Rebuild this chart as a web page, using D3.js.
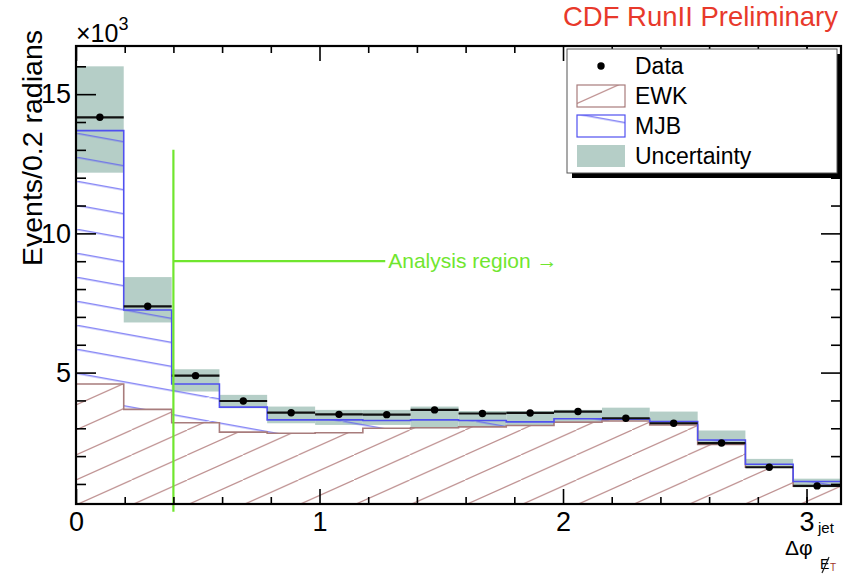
<!DOCTYPE html>
<html>
<head>
<meta charset="utf-8">
<script src="https://cdn.jsdelivr.net/npm/d3@7"></script>
<style>
  body { margin: 0; background: #fff; }
  svg { display: block; font-family: "Liberation Sans", Arial, Helvetica, sans-serif; }
</style>
</head>
<body>
<div id="chart"></div>
<script>
// 16 bins of pi/16 in delta phi (radians)
const binEdges = [0, 0.196, 0.393, 0.589, 0.785, 0.982, 1.178, 1.374, 1.571, 1.767, 1.963, 2.160, 2.356, 2.553, 2.749, 2.945, 3.142];

// events per bin, in units of 10^3
const dataValues  = [14.17, 7.38, 4.89, 3.98, 3.56, 3.50, 3.49, 3.66, 3.53, 3.55, 3.60, 3.36, 3.18, 2.47, 1.60, 0.93];
const ewkValues   = [4.59, 3.68, 3.20, 2.86, 2.82, 2.84, 3.00, 3.02, 3.05, 3.10, 3.22, 3.26, 3.12, 2.42, 1.60, 0.92];
const totalValues = [13.69, 7.25, 4.59, 3.76, 3.30, 3.30, 3.28, 3.30, 3.28, 3.23, 3.34, 3.33, 3.24, 2.58, 1.71, 1.09]; // EWK + MJB
const bandHigh    = [16.0, 8.43, 5.12, 4.20, 3.78, 3.66, 3.66, 3.78, 3.62, 3.62, 3.66, 3.74, 3.60, 2.92, 1.90, 1.19];
const bandLow     = [12.18, 6.80, 4.32, 3.72, 3.18, 3.12, 3.12, 3.00, 3.06, 3.10, 3.24, 3.28, 3.12, 2.40, 1.57, 0.88];

const xMajorTicks = [0, 1, 2, 3];
const xMinorTicks = [0.2, 0.4, 0.6, 0.8, 1.2, 1.4, 1.6, 1.8, 2.2, 2.4, 2.6, 2.8, 3.0];
const yMajorTicks = [5, 10, 15];
const yMinorTicks = [1, 2, 3, 4, 6, 7, 8, 9, 11, 12, 13, 14, 16];

// analysis cut marker
const cutX = 0.4;
const cutTop = 13;
const arrowY = 9;
const arrowEndX = 1.27;

const legendItems = ["Data", "EWK", "MJB", "Uncertainty"];

const margin = { top: 46, right: 18, bottom: 72, left: 76 };
const width = 859 - margin.left - margin.right;
const height = 576 - margin.top - margin.bottom;

const ewkLine = "#a87c7c";
const ewkHatch = "#bf9292";
const mjbLine = "#5050f0";
const mjbHatch = "#5a5af2";
const bandColor = "#b5cec7";
const green = "#70e62e";

const svg = d3.select("#chart")
    .append("svg")
    .attr("width", 859)
    .attr("height", 576);

const defs = svg.append("defs");

// hatch for EWK: rising lines
const ewkPat = defs.append("pattern")
    .attr("id", "hatchEwk")
    .attr("patternUnits", "userSpaceOnUse")
    .attr("width", 55.6).attr("height", 25).attr("y", 9);
ewkPat.append("path")
    .attr("d", "M-55.6,50L111.2,-25")
    .attr("stroke", ewkHatch).attr("stroke-width", 1.2);

// hatch for MJB: slowly falling lines
const mjbPat = defs.append("pattern")
    .attr("id", "hatchMjb")
    .attr("patternUnits", "userSpaceOnUse")
    .attr("width", 133.3).attr("height", 24).attr("y", 15.3);
mjbPat.append("path")
    .attr("d", "M-133.3,-24L266.6,48")
    .attr("stroke", mjbHatch).attr("stroke-width", 1.2);

defs.append("clipPath").attr("id", "plotClip")
    .append("rect").attr("width", width).attr("height", height);

const g = svg.append("g")
    .attr("transform", `translate(${margin.left}, ${margin.top})`);

const xScale = d3.scaleLinear().domain([0, Math.PI]).range([0, width]);
const yScale = d3.scaleLinear().domain([0.28, 16.73]).range([height, 0]);

const bins = dataValues.map((v, i) => ({
    x0: binEdges[i], x1: binEdges[i + 1],
    data: v, ewk: ewkValues[i], total: totalValues[i],
    hi: bandHigh[i], lo: bandLow[i]
}));
// step points: last edge repeats the last bin
const stepPts = binEdges.map((e, i) => ({ x: e, b: bins[Math.min(i, bins.length - 1)] }));

const plot = g.append("g").attr("clip-path", "url(#plotClip)");

// uncertainty band
plot.selectAll(".band")
    .data(bins)
    .enter()
    .append("rect")
    .attr("class", "band")
    .attr("x", d => xScale(d.x0))
    .attr("width", d => xScale(d.x1) - xScale(d.x0))
    .attr("y", d => yScale(d.hi))
    .attr("height", d => yScale(d.lo) - yScale(d.hi))
    .style("fill", bandColor);

// EWK hatched area
const ewkArea = d3.area()
    .x(d => xScale(d.x))
    .y0(yScale(0))
    .y1(d => yScale(d.b.ewk))
    .curve(d3.curveStepAfter);
plot.append("path").datum(stepPts)
    .attr("d", ewkArea)
    .style("fill", "url(#hatchEwk)");

// MJB hatched area stacked on EWK
const mjbArea = d3.area()
    .x(d => xScale(d.x))
    .y0(d => yScale(d.b.ewk))
    .y1(d => yScale(d.b.total))
    .curve(d3.curveStepAfter);
plot.append("path").datum(stepPts)
    .attr("d", mjbArea)
    .style("fill", "url(#hatchMjb)");

function outline(key) {
    const line = d3.line()
        .x(d => xScale(d.x))
        .y(d => yScale(d.b[key]))
        .curve(d3.curveStepAfter);
    const last = xScale(binEdges[binEdges.length - 1]);
    return `M0,${yScale(0)}L` + line(stepPts).slice(1) + `L${last},${yScale(0)}`;
}

plot.append("path")
    .attr("d", outline("ewk"))
    .style("fill", "none")
    .style("stroke", ewkLine)
    .style("stroke-width", 1.6);

plot.append("path")
    .attr("d", outline("total"))
    .style("fill", "none")
    .style("stroke", mjbLine)
    .style("stroke-width", 1.6);

// analysis region marker
g.append("line")
    .attr("x1", xScale(cutX)).attr("x2", xScale(cutX))
    .attr("y1", yScale(0)).attr("y2", yScale(cutTop))
    .style("stroke", green).style("stroke-width", 2.2);
g.append("line")
    .attr("x1", xScale(cutX)).attr("x2", xScale(arrowEndX))
    .attr("y1", yScale(arrowY)).attr("y2", yScale(arrowY))
    .style("stroke", green).style("stroke-width", 2.2);
g.append("text")
    .attr("x", xScale(arrowEndX) + 3)
    .attr("y", yScale(arrowY) + 7)
    .style("font-size", "21px")
    .style("fill", green)
    .text("Analysis region \u2192");

// data with bin-width bars
plot.selectAll(".xerr")
    .data(bins)
    .enter()
    .append("line")
    .attr("class", "xerr")
    .attr("x1", d => xScale(d.x0))
    .attr("x2", d => xScale(d.x1))
    .attr("y1", d => yScale(d.data))
    .attr("y2", d => yScale(d.data))
    .style("stroke", "#111")
    .style("stroke-width", 2.2);

plot.selectAll(".point")
    .data(bins)
    .enter()
    .append("circle")
    .attr("class", "point")
    .attr("cx", d => xScale((d.x0 + d.x1) / 2))
    .attr("cy", d => yScale(d.data))
    .attr("r", 3.7)
    .style("fill", "#000");

// axes with inward ticks
function styleAxis(sel) {
    sel.select(".domain").remove();
    sel.attr("font-family", null).attr("font-size", 27);
    sel.selectAll("line").style("stroke", "#000").style("stroke-width", 1.6);
    sel.selectAll("text").style("fill", "#000");
}

g.append("g").attr("transform", `translate(0, ${height})`)
    .call(d3.axisBottom(xScale).tickValues(xMajorTicks).tickSize(-15).tickPadding(8).tickFormat(d3.format("d")))
    .call(styleAxis);
g.append("g").attr("transform", `translate(0, ${height})`)
    .call(d3.axisBottom(xScale).tickValues(xMinorTicks).tickSize(-7).tickFormat(""))
    .call(styleAxis);
g.append("g")
    .call(d3.axisTop(xScale).tickValues(xMajorTicks).tickSize(-15).tickFormat(""))
    .call(styleAxis);
g.append("g")
    .call(d3.axisTop(xScale).tickValues(xMinorTicks).tickSize(-7).tickFormat(""))
    .call(styleAxis);

g.append("g")
    .call(d3.axisLeft(yScale).tickValues(yMajorTicks).tickSize(-20).tickPadding(5).tickFormat(d3.format("d")))
    .call(styleAxis);
g.append("g")
    .call(d3.axisLeft(yScale).tickValues(yMinorTicks).tickSize(-10).tickFormat(""))
    .call(styleAxis);
g.append("g").attr("transform", `translate(${width}, 0)`)
    .call(d3.axisRight(yScale).tickValues(yMajorTicks).tickSize(-20).tickFormat(""))
    .call(styleAxis);
g.append("g").attr("transform", `translate(${width}, 0)`)
    .call(d3.axisRight(yScale).tickValues(yMinorTicks).tickSize(-10).tickFormat(""))
    .call(styleAxis);

// frame
g.append("rect")
    .attr("width", width).attr("height", height)
    .style("fill", "none")
    .style("stroke", "#000")
    .style("stroke-width", 2.2);

// legend
const leg = svg.append("g").attr("transform", "translate(567, 49)");
leg.append("rect").attr("x", 5).attr("y", 5).attr("width", 270).attr("height", 124).style("fill", "#000");
leg.append("rect").attr("width", 270).attr("height", 124)
    .style("fill", "#fff").style("stroke", "#555").style("stroke-width", 1);

const rowY = [17, 47, 77, 107];
leg.append("circle").attr("cx", 34).attr("cy", rowY[0]).attr("r", 3.7).style("fill", "#000");
leg.append("rect").attr("x", 10).attr("y", rowY[1] - 11).attr("width", 48).attr("height", 22)
    .style("fill", "url(#hatchEwk)").style("stroke", ewkLine).style("stroke-width", 1.2);
leg.append("rect").attr("x", 10).attr("y", rowY[2] - 11).attr("width", 48).attr("height", 22)
    .style("fill", "url(#hatchMjb)").style("stroke", mjbLine).style("stroke-width", 1.2);
leg.append("rect").attr("x", 10).attr("y", rowY[3] - 11).attr("width", 48).attr("height", 22)
    .style("fill", bandColor);

leg.selectAll(".legtext")
    .data(legendItems)
    .enter()
    .append("text")
    .attr("x", 68)
    .attr("y", (d, i) => rowY[i] + 8)
    .style("font-size", "23px")
    .style("fill", "#000")
    .text(d => d);

// title
svg.append("text")
    .attr("x", 838).attr("y", 26)
    .style("text-anchor", "end")
    .style("font-size", "27.5px")
    .style("fill", "#e8392b")
    .text("CDF RunII Preliminary");

// exponent
const expo = svg.append("text").attr("x", 76).attr("y", 42).style("font-size", "25px");
expo.append("tspan").text("\u00d710");
expo.append("tspan").attr("dy", -12).style("font-size", "18px").text("3");

// y title
svg.append("text")
    .attr("transform", "translate(42, 30) rotate(-90)")
    .style("text-anchor", "end")
    .style("font-size", "28.5px")
    .text("Events/0.2 radians");

// x title: delta phi with jet superscript and missing-ET subscript
svg.append("text").attr("x", 785).attr("y", 555).style("font-size", "21px").text("\u0394\u03c6");
svg.append("text").attr("x", 818).attr("y", 533).style("font-size", "15px").text("jet");
svg.append("text").attr("x", 820).attr("y", 569).style("font-size", "14px").text("E");
svg.append("line").attr("x1", 822).attr("y1", 573).attr("x2", 829).attr("y2", 557)
    .style("stroke", "#222").style("stroke-width", 1.2);
svg.append("text").attr("x", 830).attr("y", 571).style("font-size", "10px").style("fill", "#a0342a").text("T");
</script>
</body>
</html>
